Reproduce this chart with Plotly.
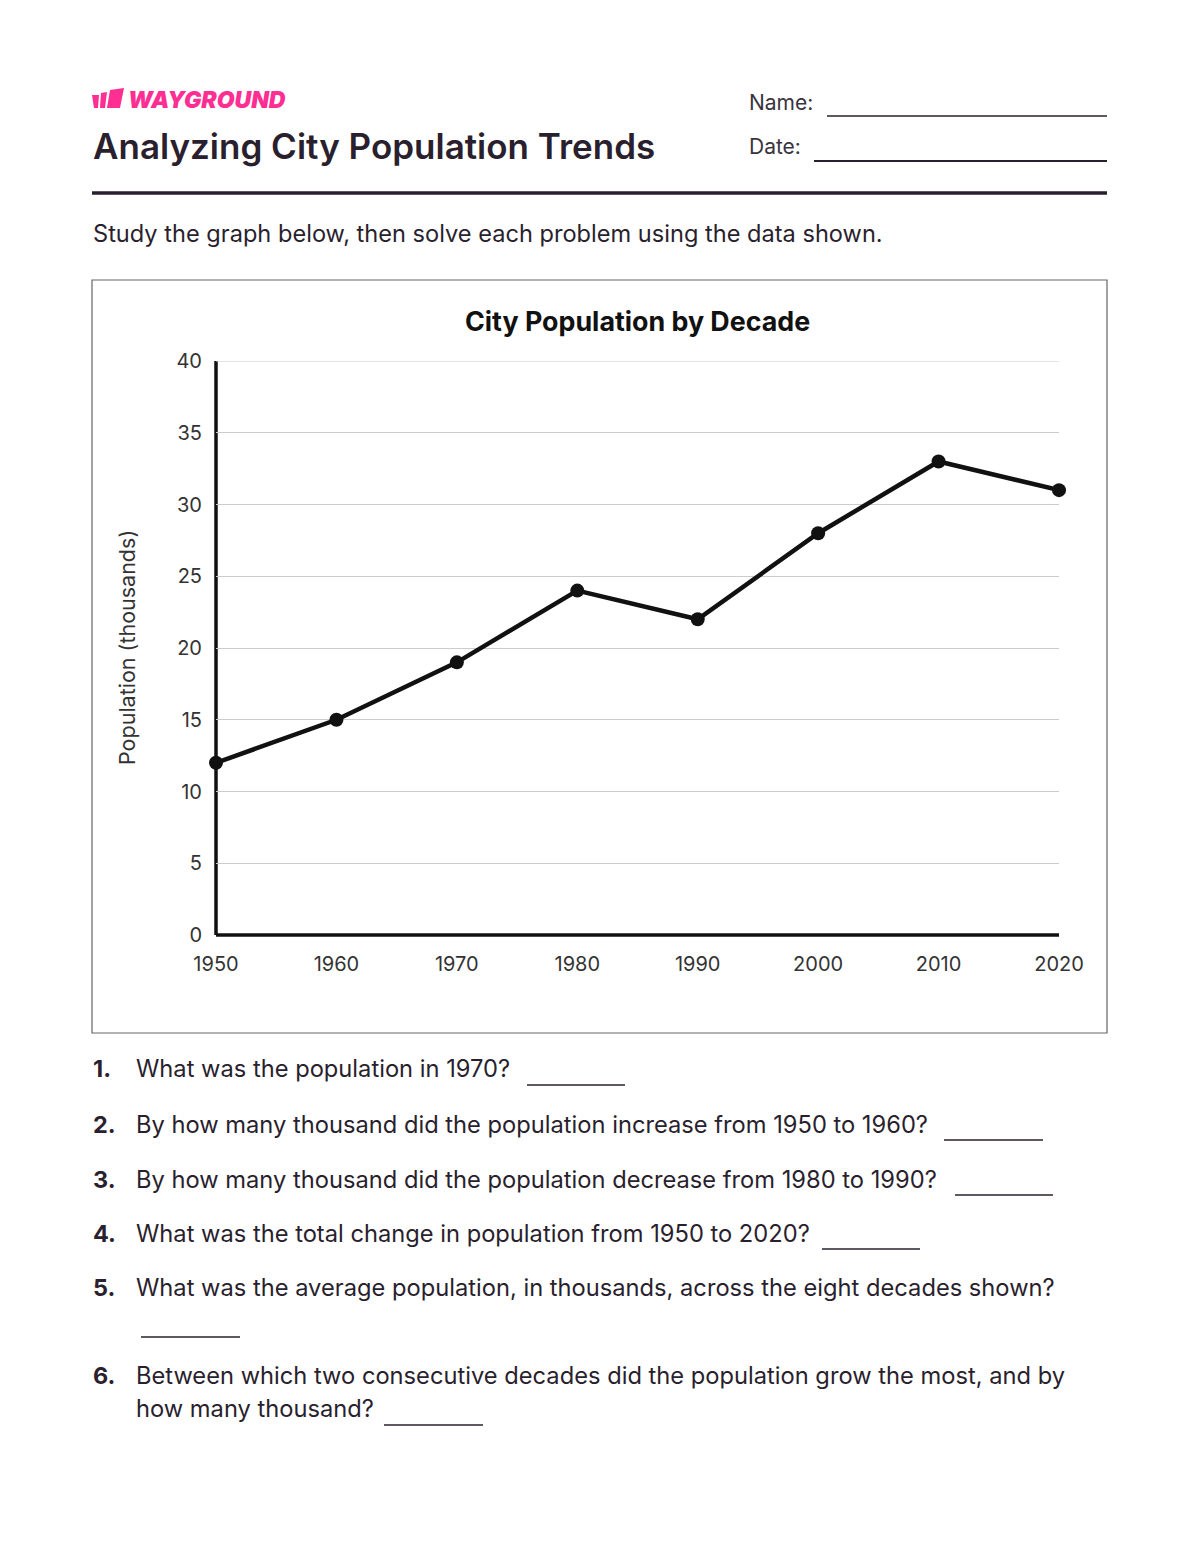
import plotly.graph_objects as go

# chart data
years = [1950, 1960, 1970, 1980, 1990, 2000, 2010, 2020]
population = [12, 15, 19, 24, 22, 28, 33, 31]
y_ticks = [0, 5, 10, 15, 20, 25, 30, 35, 40]

questions = [
    ["What was the population in 1970?"],
    ["By how many thousand did the population increase from 1950 to 1960?"],
    ["By how many thousand did the population decrease from 1980 to 1990?"],
    ["What was the total change in population from 1950 to 2020?"],
    ["What was the average population, in thousands, across the eight decades shown?"],
    ["Between which two consecutive decades did the population grow the most, and by",
     "how many thousand?"],
]

OFF = 8  # page body margin of the html
W, H = 1200 - OFF, 1552 - OFF
PL, PR, PT, PB = 216, 1059, 361, 935  # plot area in page pixels
FONT = "Inter, 'Noto Sans', sans-serif"
INK = "#2a1f2e"
PINK = "#ff2e93"


def px(x):
    return (x - PL) / (PR - PL)


def py(y):
    return (PB - y) / (PB - PT)


fig = go.Figure()
fig.add_trace(go.Scatter(
    x=years, y=population, mode="lines+markers",
    line=dict(color="#111111", width=4.5),
    marker=dict(color="#111111", size=14),
    cliponaxis=False, hoverinfo="skip", showlegend=False,
))

annotations = []
shapes = []


def text(x, y, s, size, color=INK, weight=400, anchor="left", angle=0, italic=False):
    annotations.append(dict(
        x=px(x), y=py(y), xref="paper", yref="paper", text=s, showarrow=False,
        xanchor=anchor, yanchor="middle", textangle=angle, align="left",
        font=dict(family=FONT, size=size, color=color, weight=weight,
                  style="italic" if italic else "normal"),
    ))


def hline(x0, x1, y, width=1.5, color=INK):
    shapes.append(dict(type="line", xref="paper", yref="paper",
                       x0=px(x0), x1=px(x1), y0=py(y), y1=py(y),
                       line=dict(color=color, width=width)))


def poly(points, color):
    path = "M " + " L ".join(f"{px(a):.5f},{py(b):.5f}" for a, b in points) + " Z"
    shapes.append(dict(type="path", xref="paper", yref="paper", path=path,
                       fillcolor=color, line=dict(width=0)))


# logo
poly([(92, 95), (99, 95), (98, 108), (94, 108)], PINK)
poly([(101, 93), (107, 92), (105, 108), (100, 108)], PINK)
poly([(110, 90), (124, 88), (120, 108), (107, 108)], PINK)
text(126, 100, "WAYGROUND", 23, color=PINK, weight=900, italic=True)

# header
text(91, 146, "Analyzing City Population Trends", 35, weight=600)
text(747, 102, "Name:", 21, color="#3a3340")
hline(827, 1107, 116, 1.5)
text(747, 146, "Date:", 21, color="#3a3340")
hline(814, 1107, 161, 2)
hline(92, 1107, 193, 3.5)
text(91, 234, "Study the graph below, then solve each problem using the data shown.", 23.6)

# chart frame, top gridline and axis lines
shapes.append(dict(type="rect", xref="paper", yref="paper",
                   x0=px(92), x1=px(1107), y0=py(280), y1=py(1033),
                   line=dict(color="#666666", width=1.2)))
shapes.append(dict(type="line", xref="x", yref="y", x0=years[0], x1=years[-1],
                   y0=y_ticks[-1], y1=y_ticks[-1], layer="between",
                   line=dict(color="#cccccc", width=1)))
for x0, x1, y0, y1 in [(0, 0, 0, 1), (0, 1, 0, 0)]:
    shapes.append(dict(type="line", xref="paper", yref="paper",
                       x0=x0, x1=x1, y0=y0, y1=y1, layer="between",
                       line=dict(color="#111111", width=3.5)))
text(637, 321, "City Population by Decade", 26.8, color="#111111", weight=700, anchor="center")
text(127, 648, "Population (thousands)", 21.5, color="#333333", anchor="center", angle=-90)

# questions
q_rows = [1068, 1124, 1179, 1233, 1287, 1375]
for i, (q, yq) in enumerate(zip(questions, q_rows), start=1):
    text(91, yq, f"{i}.", 23.5, weight=700)
    for k, line in enumerate(q):
        text(134, yq + 33 * k, line, 23.7)
for x0, x1, yl in [(527, 625, 1085), (944, 1043, 1140), (955, 1053, 1195),
                   (822, 920, 1249), (141, 240, 1337), (384, 483, 1425)]:
    hline(x0, x1, yl, 1.3)

fig.update_layout(
    width=W, height=H,
    margin=dict(l=PL - OFF, r=W - (PR - OFF), t=PT - OFF, b=H - (PB - OFF), pad=0),
    paper_bgcolor="white", plot_bgcolor="white",
    font=dict(family=FONT, color="#333333"),
    annotations=annotations, shapes=shapes,
    xaxis=dict(range=[1950, 2020], tickvals=years, showgrid=False, zeroline=False,
               showline=False, ticks="outside", ticklen=11, tickcolor="rgba(0,0,0,0)",
               tickfont=dict(size=20, color="#333333"), fixedrange=True),
    yaxis=dict(range=[0, 40], tickvals=y_ticks, showgrid=True, gridcolor="#cccccc",
               gridwidth=1, zeroline=False, showline=False, ticks="outside", ticklen=9,
               tickcolor="rgba(0,0,0,0)", tickfont=dict(size=20, color="#333333"),
               fixedrange=True),
)

fig.write_html("out.html")
